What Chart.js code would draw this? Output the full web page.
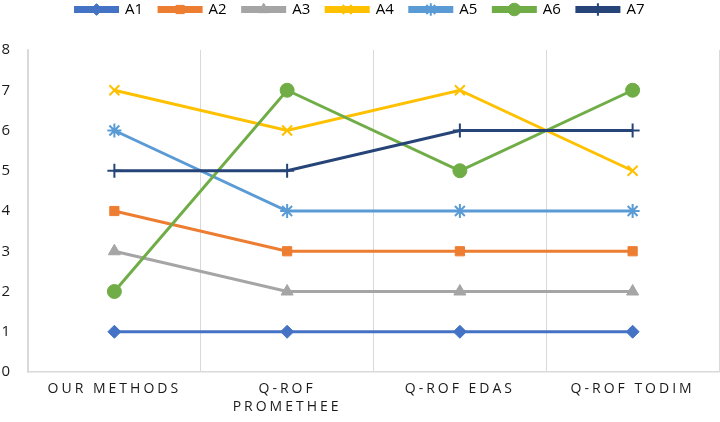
<!DOCTYPE html>
<html>
<head>
<meta charset="utf-8">
<script src="https://cdn.jsdelivr.net/npm/chart.js@4/dist/chart.umd.min.js"></script>
<style>
  html, body { margin: 0; padding: 0; background: #fff; }
  #wrap { width: 720px; height: 422px; }
</style>
</head>
<body>
<div id="wrap"><canvas id="line-chart" width="720" height="422"></canvas></div>
<script>
// categorias y series
const categories = ['OUR METHODS', ['Q-ROF', 'PROMETHEE'], 'Q-ROF EDAS', 'Q-ROF TODIM'];
const seriesNames = ['A1', 'A2', 'A3', 'A4', 'A5', 'A6', 'A7'];
const a1 = [1, 1, 1, 1];
const a2 = [4, 3, 3, 3];
const a3 = [3, 2, 2, 2];
const a4 = [7, 6, 7, 5];
const a5 = [6, 4, 4, 4];
const a6 = [2, 7, 5, 7];
const a7 = [5, 5, 6, 6];
const yTicks = [0, 1, 2, 3, 4, 5, 6, 7, 8];

const values = [a1, a2, a3, a4, a5, a6, a7];
const colors = ['#4472C4', '#ED7D31', '#A5A5A5', '#FFC000', '#5B9BD5', '#70AD47', '#264478'];
const markers = ['rectRot', 'rect', 'triangle', 'crossRot', 'star', 'circle', 'cross'];
const radius = [6.5, 6.5, 7, 7, 7, 7, 7];

const datasets = seriesNames.map((name, i) => ({
    label: name,
    data: values[i],
    borderColor: colors[i],
    backgroundColor: colors[i],
    borderWidth: 3,
    pointStyle: markers[i],
    pointRadius: radius[i],
    pointBorderWidth: (markers[i] === 'crossRot' || markers[i] === 'star' || markers[i] === 'cross') ? 2 : 1,
    pointBackgroundColor: colors[i],
    pointBorderColor: colors[i],
    tension: 0,
    order: seriesNames.length - i
}));

// leyenda mas alta para bajar el area del grafico
const legendSpace = {
    id: 'legendSpace',
    beforeInit(chart) {
        const legend = chart.legend;
        const fit = legend.fit;
        legend.fit = function () {
            fit.call(this);
            this.height = 64;
        };
    }
};

// marcador encima de la linea de la leyenda
const legendMarkers = {
    id: 'legendMarkers',
    afterDraw(chart) {
        const legend = chart.legend;
        if (!legend || !legend.legendHitBoxes) return;
        const ctx = chart.ctx;
        legend.legendHitBoxes.forEach((box, i) => {
            const ds = chart.data.datasets[legend.legendItems[i].datasetIndex];
            const cx = box.left + 21;
            const cy = box.top + box.height / 2;
            ctx.save();
            ctx.fillStyle = ds.backgroundColor;
            ctx.strokeStyle = ds.borderColor;
            ctx.lineWidth = ds.pointBorderWidth;
            Chart.helpers.drawPoint(ctx, {
                pointStyle: ds.pointStyle, radius: ds.pointRadius * 0.9, borderWidth: ds.pointBorderWidth
            }, cx, cy);
            ctx.restore();
        });
    }
};

new Chart(document.getElementById('line-chart'), {
    type: 'line',
    data: { labels: categories, datasets: datasets },
    options: {
        responsive: false,
        animation: false,
        layout: { autoPadding: false, padding: { left: 1, right: 1, top: -14, bottom: 6 } },
        plugins: {
            legend: {
                position: 'top',
                labels: {
                    boxWidth: 42,
                    boxHeight: 4,
                    padding: 16,
                    color: '#000',
                    font: { family: 'Open Sans', size: 15 },
                    sort: (a, b) => a.datasetIndex - b.datasetIndex
                }
            },
            tooltip: { enabled: false }
        },
        scales: {
            x: {
                offset: true,
                grid: { display: true, offset: true, color: '#d9d9d9', lineWidth: 1, drawTicks: false },
                border: { display: true, color: '#d9d9d9', width: 1.5 },
                ticks: {
                    color: '#1a1a1a',
                    maxRotation: 0,
                    autoSkip: false,
                    padding: 8,
                    font: { family: 'Open Sans', size: 14, lineHeight: 1.3 }
                },
                afterFit(scale) {
                    scale.height = 44;
                    // espaciado de letras como en el original
                    if (scale._spaced) return;
                    const draw = scale.drawLabels;
                    scale.drawLabels = function (area) {
                        this.ctx.save();
                        this.ctx.letterSpacing = '3px';
                        draw.call(this, area);
                        this.ctx.restore();
                    };
                    scale._spaced = true;
                }
            },
            y: {
                min: 0,
                max: 8,
                afterBuildTicks(scale) { scale.ticks = yTicks.map(v => ({ value: v })); },
                afterFit(scale) { scale.width = 27; },
                grid: { display: false, drawTicks: false },
                border: { display: true, color: '#d9d9d9', width: 1.5 },
                ticks: {
                    color: '#1a1a1a',
                    padding: 18,
                    font: { family: 'Open Sans', size: 15 }
                }
            }
        }
    },
    plugins: [legendSpace, legendMarkers]
});
</script>
</body>
</html>
